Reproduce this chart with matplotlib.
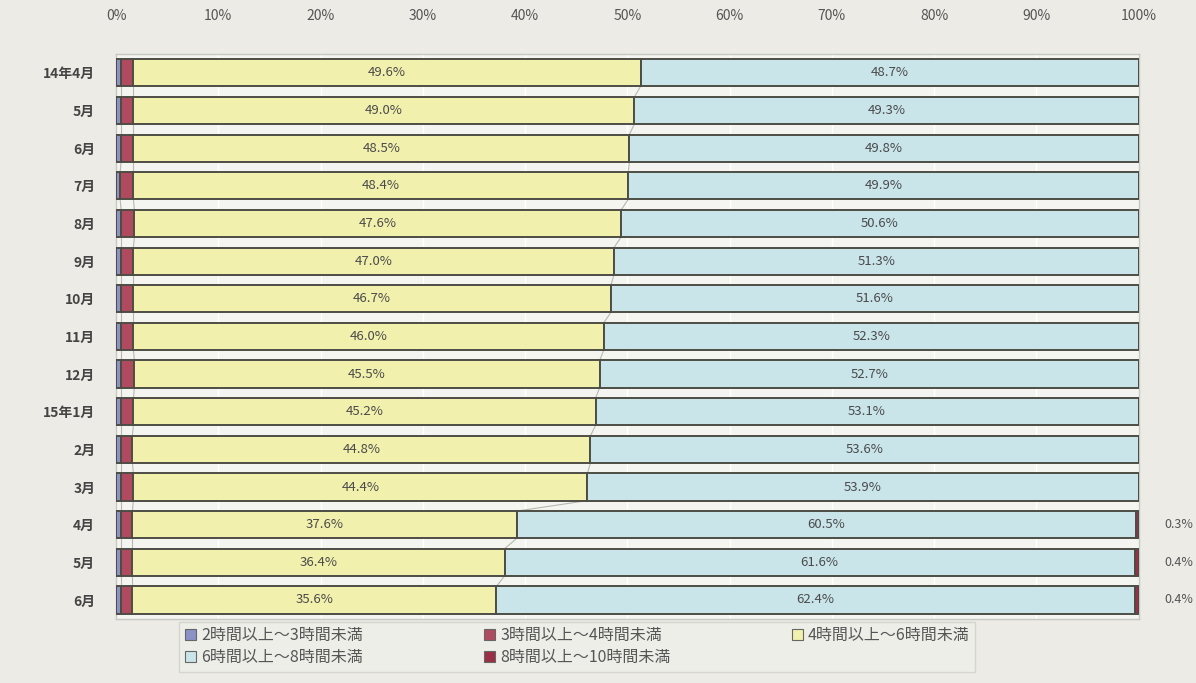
import matplotlib.pyplot as plt
from matplotlib.patches import Patch
import numpy as np

plt.rcParams['font.family'] = ['Noto Sans CJK JP', 'DejaVu Sans']

months = ['14年4月', '5月', '6月', '7月', '8月', '9月', '10月', '11月', '12月',
          '15年1月', '2月', '3月', '4月', '5月', '6月']
h2_3 = [0.5, 0.5, 0.5, 0.4, 0.5, 0.5, 0.5, 0.5, 0.5, 0.5, 0.5, 0.5, 0.5, 0.5, 0.5]
h3_4 = [1.2, 1.2, 1.2, 1.3, 1.3, 1.2, 1.2, 1.2, 1.3, 1.2, 1.1, 1.2, 1.1, 1.1, 1.1]
h4_6 = [49.6, 49.0, 48.5, 48.4, 47.6, 47.0, 46.7, 46.0, 45.5, 45.2, 44.8, 44.4, 37.6, 36.4, 35.6]
h6_8 = [48.7, 49.3, 49.8, 49.9, 50.6, 51.3, 51.6, 52.3, 52.7, 53.1, 53.6, 53.9, 60.5, 61.6, 62.4]
h8_10 = [0, 0, 0, 0, 0, 0, 0, 0, 0, 0, 0, 0, 0.3, 0.4, 0.4]

series = [
    ('2時間以上～3時間未満', h2_3, '#8a92c6'),
    ('3時間以上～4時間未満', h3_4, '#b04a5e'),
    ('4時間以上～6時間未満', h4_6, '#f1f0ad'),
    ('6時間以上～8時間未満', h6_8, '#c9e5ea'),
    ('8時間以上～10時間未満', h8_10, '#9a2f45'),
]

fig = plt.figure(figsize=(11.96, 6.83), dpi=100, facecolor='#ecebe5')
ax = fig.add_axes([0.097, 0.094, 0.855, 0.827])
ax.set_facecolor('#f4f4f1')

y = np.arange(len(months))
bh = 0.72
left = np.zeros(len(months))
bounds = []
for name, vals, col in series:
    vals = np.array(vals)
    ax.barh(y, vals, left=left, height=bh, color=col, edgecolor='#4d4d45',
            linewidth=1.4, zorder=3)
    left = left + vals
    bounds.append(left.copy())

# series lines between bars
for b in bounds[:3]:
    for i in range(len(months) - 1):
        ax.plot([b[i], b[i + 1]], [y[i] + bh / 2, y[i + 1] - bh / 2],
                color='#b8b8b0', lw=0.8, zorder=2)

# labels
start4 = np.array(h2_3) + np.array(h3_4)
for i in range(len(months)):
    ax.text(start4[i] + h4_6[i] / 2, y[i], f'{h4_6[i]:.1f}%', ha='center',
            va='center', fontsize=9.5, color='#4a4a4a', zorder=4)
    ax.text(start4[i] + h4_6[i] + h6_8[i] / 2, y[i], f'{h6_8[i]:.1f}%',
            ha='center', va='center', fontsize=9.5, color='#4a4a4a', zorder=4)
    if h8_10[i] > 0:
        ax.text(102.5, y[i], f'{h8_10[i]:.1f}%', ha='left', va='center',
                fontsize=9, color='#555555', clip_on=False)

ax.set_xlim(0, 100)
ax.set_ylim(len(months) - 0.5, -0.5)
ax.set_xticks(np.arange(0, 101, 10))
ax.set_xticklabels([f'{v}%' for v in range(0, 101, 10)])
ax.xaxis.tick_top()
ax.tick_params(axis='x', length=0, pad=22, labelsize=10, labelcolor='#555555')
ax.set_yticks(y)
ax.set_yticklabels(months)
ax.tick_params(axis='y', length=0, pad=15, labelsize=10, labelcolor='#444444')
for t in ax.get_yticklabels():
    t.set_fontweight('bold')
ax.grid(axis='x', color='#ffffff', lw=1.0, zorder=1)
for s in ax.spines.values():
    s.set_color('#c8c8c2')
    s.set_linewidth(1.0)

handles = {name: Patch(facecolor=col, edgecolor='#666666', linewidth=0.8)
           for name, vals, col in series}
order = ['2時間以上～3時間未満', '6時間以上～8時間未満', '3時間以上～4時間未満',
         '8時間以上～10時間未満', '4時間以上～6時間未満']
leg = fig.legend([handles[n] for n in order], order, ncol=3,
                 loc='upper left', bbox_to_anchor=(0.150, 0.090),
                 frameon=True, fancybox=False, fontsize=11.5,
                 handlelength=0.7, handleheight=0.7, handletextpad=0.3,
                 columnspacing=7.6, labelspacing=0.3, borderpad=0.35,
                 borderaxespad=0.0,
                 facecolor='#efefeb', edgecolor='#cfcfca', labelcolor='#555555')
leg.get_frame().set_linewidth(1.0)

fig.savefig('out.png', dpi=100, facecolor=fig.get_facecolor())
